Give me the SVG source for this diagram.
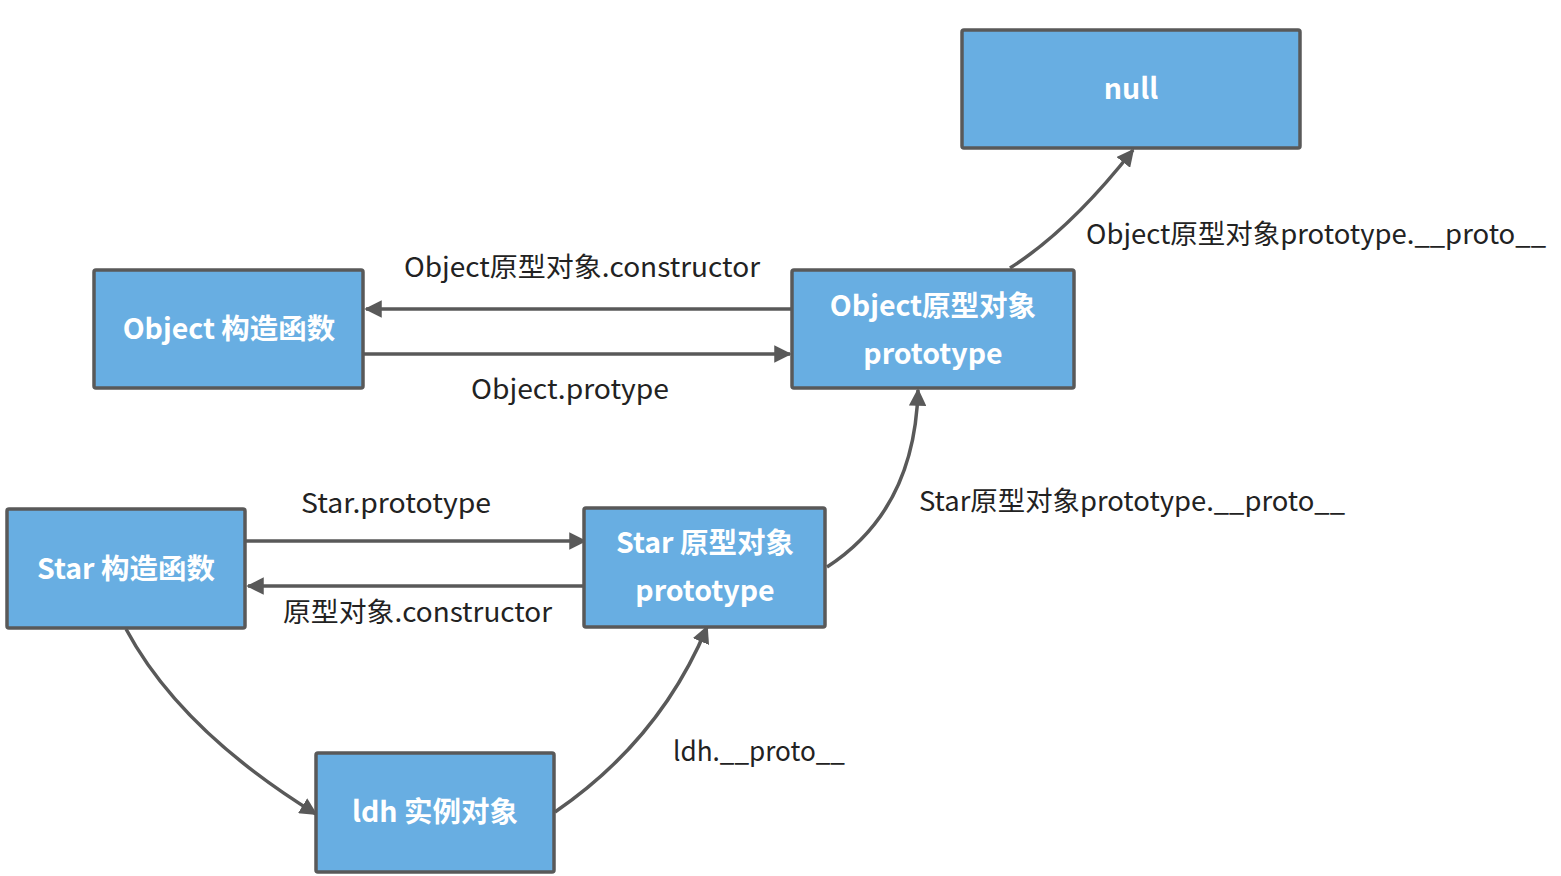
<svg xmlns="http://www.w3.org/2000/svg" width="1561" height="876" viewBox="0 0 1561 876">
<defs>
<marker id="ah" viewBox="0 0 10 10" refX="9" refY="5" markerWidth="5" markerHeight="5" orient="auto" markerUnits="strokeWidth">
<path d="M0,0 L10,5 L0,10 Z" fill="#595959"/>
</marker>
<style>
.box{fill:#68aee2;stroke:#595959;stroke-width:3.5;}
.nt{font-family:"Noto Sans CJK SC","Noto Sans",sans-serif;font-weight:bold;font-size:28.5px;fill:#ffffff;text-anchor:middle;}
.lb{font-family:"Noto Sans CJK SC","Noto Sans",sans-serif;font-size:27px;fill:#222222;}
.cn{fill:none;stroke:#595959;stroke-width:3.5;marker-end:url(#ah);}
</style>
</defs>
<rect width="1561" height="876" fill="#ffffff"/>
<g id="connectors">
<path class="cn" d="M792,309 L366,309"/>
<path class="cn" d="M364,354 L790,354"/>
<path class="cn" d="M246,541 L585,541"/>
<path class="cn" d="M584,586 L248,586"/>
<path class="cn" d="M126,629 Q180,730 316,814"/>
<path class="cn" d="M555,812 Q660,740 707,627"/>
<path class="cn" d="M827,567 Q915,510 918,390"/>
<path class="cn" d="M1010,268 Q1070,230 1133,150"/>
</g>
<g id="labels">
<text class="lb" x="404" y="277" textLength="356" lengthAdjust="spacingAndGlyphs">Object原型对象.constructor</text>
<text class="lb" x="471" y="399" textLength="198" lengthAdjust="spacingAndGlyphs">Object.protype</text>
<text class="lb" x="301" y="513" textLength="190" lengthAdjust="spacingAndGlyphs">Star.prototype</text>
<text class="lb" x="283" y="622" textLength="269" lengthAdjust="spacingAndGlyphs">原型对象.constructor</text>
<text class="lb" x="673" y="761" textLength="172" lengthAdjust="spacingAndGlyphs">ldh.__proto__</text>
<text class="lb" x="919" y="511" textLength="426" lengthAdjust="spacingAndGlyphs">Star原型对象prototype.__proto__</text>
<text class="lb" x="1086" y="244" textLength="460" lengthAdjust="spacingAndGlyphs">Object原型对象prototype.__proto__</text>
</g>
<g id="null">
<rect class="box" x="962" y="30" width="338" height="118" rx="2"/>
<text class="nt" x="1131" y="99">null</text>
</g>
<g id="object-ctor">
<rect class="box" x="94" y="270" width="269" height="118" rx="2"/>
<text class="nt" x="229" y="339">Object 构造函数</text>
</g>
<g id="object-proto">
<rect class="box" x="792" y="270" width="282" height="118" rx="2"/>
<text class="nt" x="933" y="316">Object原型对象</text>
<text class="nt" x="933" y="364">prototype</text>
</g>
<g id="star-ctor">
<rect class="box" x="7" y="509" width="238" height="119" rx="2"/>
<text class="nt" x="126" y="579">Star 构造函数</text>
</g>
<g id="star-proto">
<rect class="box" x="584" y="508" width="241" height="119" rx="2"/>
<text class="nt" x="705" y="553">Star 原型对象</text>
<text class="nt" x="705" y="601">prototype</text>
</g>
<g id="ldh">
<rect class="box" x="316" y="753" width="238" height="119" rx="2"/>
<text class="nt" x="435" y="822">ldh 实例对象</text>
</g>
</svg>
